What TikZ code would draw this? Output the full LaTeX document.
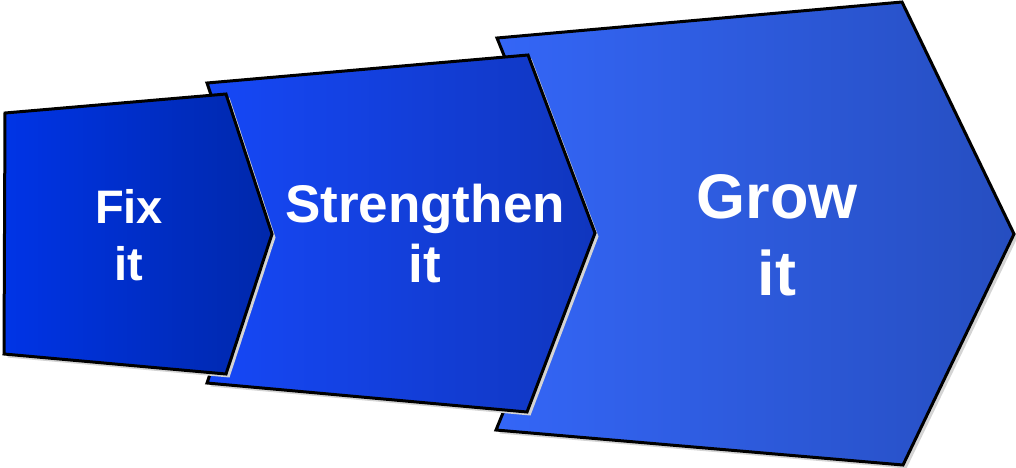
\documentclass[tikz,border=0pt]{standalone}
\usepackage{fontspec}
\setmainfont{Liberation Sans}
\definecolor{fixleft}{RGB}{0,52,230}
\definecolor{fixright}{RGB}{0,40,170}
\definecolor{strleft}{RGB}{22,72,247}
\definecolor{strright}{RGB}{16,54,190}
\definecolor{growleft}{RGB}{52,102,247}
\definecolor{growright}{RGB}{38,78,192}
\tikzset{
  chevron/.style={draw=black, line width=3pt, line join=miter, shading=axis},
  chevshadow/.style={fill=black!17, shift={(3.5,3.5)}},
  chevtext/.style={text=white, font=\bfseries, align=center, inner sep=0pt}
}
\begin{document}
\begin{tikzpicture}[x=1pt, y=-1pt]
  \useasboundingbox (0,0) rectangle (1016,467);
  % back to front: grow, strengthen, fix ; shadow first, then the shape
  \fill[chevshadow] (497,38) -- (902,2) -- (1014,234) -- (903,465) -- (496,430) -- (576,234) -- cycle;
  \path[chevron, left color=growleft, right color=growright] (497,38) -- (902,2) -- (1014,234) -- (903,465) -- (496,430) -- (576,234) -- cycle;
  \fill[chevshadow] (207,83) -- (528,55) -- (595,233) -- (527,412) -- (207,383) -- (258,233) -- cycle;
  \path[chevron, left color=strleft, right color=strright] (207,83) -- (528,55) -- (595,233) -- (527,412) -- (207,383) -- (258,233) -- cycle;
  \fill[chevshadow] (5,113) -- (226,94) -- (272,234) -- (226,374) -- (4,354) -- cycle;
  \path[chevron, left color=fixleft, right color=fixright] (5,113) -- (226,94) -- (272,234) -- (226,374) -- (4,354) -- cycle;
  \node[chevtext, font=\bfseries\fontsize{47}{57}\selectfont] (fix) at (129,235) {Fix\\it};
  \node[chevtext, font=\bfseries\fontsize{53}{60}\selectfont] (strengthen) at (425,233.5) {Strengthen\\it};
  \node[chevtext, font=\bfseries\fontsize{63}{77}\selectfont] (grow) at (777,235) {Grow\\it};
\end{tikzpicture}
\end{document}
